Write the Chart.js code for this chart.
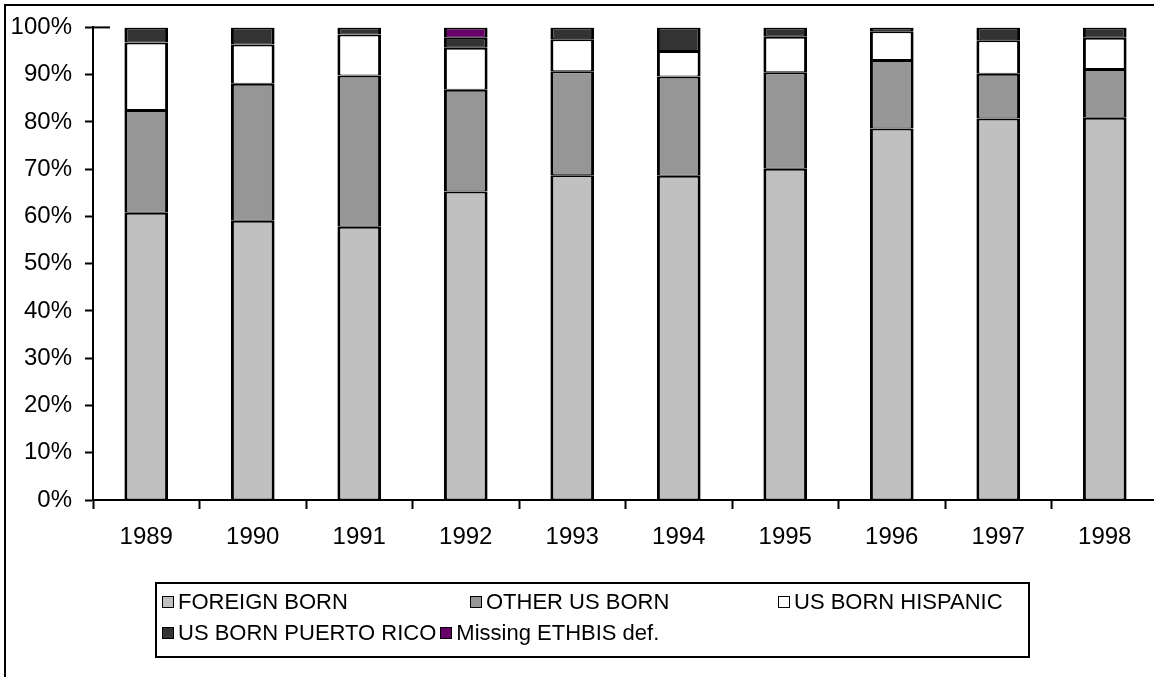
<!DOCTYPE html>
<html>
<head>
<meta charset="utf-8">
<script src="https://cdn.jsdelivr.net/npm/chart.js@4/dist/chart.umd.min.js"></script>
<style>
  html, body { margin: 0; padding: 0; background: #fff; overflow: hidden; width: 1154px; height: 677px; }
  #wrap { position: relative; width: 1154px; height: 677px; overflow: hidden; }
  #chart { position: absolute; left: 0; top: 0; }
  #legend {
    position: absolute; left: 155px; top: 582px; width: 875px; height: 76px;
    box-sizing: border-box; border: 2px solid #000; background: #fff;
    font-family: "Liberation Sans", Arial, sans-serif; font-size: 22px; line-height: 25px; color: #000;
  }
  .row { position: absolute; left: 5px; display: flex; align-items: center; white-space: nowrap; }
  .item { display: flex; align-items: center; }
  .row1 .item { width: 308px; }
  .row2 .item { margin-right: 4px; }
  .sw { width: 10px; height: 10px; border: 1.5px solid #000; margin-right: 4px; flex: none; }
</style>
</head>
<body>
<div id="wrap">
  <canvas id="chart" width="1170" height="677"></canvas>
  <div id="legend"></div>
</div>
<script>
const years = ["1989", "1990", "1991", "1992", "1993", "1994", "1995", "1996", "1997", "1998"];
const foreignBorn      = [60.8, 59.1, 57.8, 65.3, 68.7, 68.6, 70.1, 78.6, 80.7, 80.9];
const otherUsBorn      = [21.7, 29.0, 32.0, 21.5, 22.0, 21.0, 20.4, 14.5, 9.5, 10.3];
const usBornHispanic   = [14.3, 8.3, 8.7, 8.9, 6.8, 5.4, 7.5, 6.1, 7.1, 6.6];
const usBornPuertoRico = [3.2, 3.6, 1.5, 2.1, 2.5, 5.0, 2.0, 0.8, 2.7, 2.2];
const missingEthbis    = [0, 0, 0, 2.2, 0, 0, 0, 0, 0, 0];
const yTicks = [0, 10, 20, 30, 40, 50, 60, 70, 80, 90, 100];

const series = [
  { label: "FOREIGN BORN", data: foreignBorn, color: "#c0c0c0" },
  { label: "OTHER US BORN", data: otherUsBorn, color: "#969696" },
  { label: "US BORN HISPANIC", data: usBornHispanic, color: "#ffffff" },
  { label: "US BORN PUERTO RICO", data: usBornPuertoRico, color: "#333333" },
  { label: "Missing ETHBIS def.", data: missingEthbis, color: "#660066" },
];

Chart.defaults.font.family = '"Liberation Sans", Arial, sans-serif';
Chart.defaults.font.size = 24;
Chart.defaults.color = "#000";

// white page + outer frame (cropped on right/bottom) + short line at top of axis
const framePlugin = {
  id: "frame",
  beforeDraw(chart) {
    const ctx = chart.ctx;
    ctx.save();
    ctx.fillStyle = "#fff";
    ctx.fillRect(0, 0, chart.width, chart.height);
    ctx.strokeStyle = "#000";
    ctx.lineWidth = 2;
    ctx.strokeRect(5, 5, chart.width + 50, chart.height + 50);
    ctx.restore();
  },
  afterDraw(chart) {
    const ctx = chart.ctx;
    const y = chart.scales.y.getPixelForValue(100);
    ctx.save();
    ctx.strokeStyle = "#000";
    ctx.lineWidth = 2;
    ctx.beginPath();
    ctx.moveTo(chart.chartArea.left, y);
    ctx.lineTo(chart.chartArea.left + 17, y);
    ctx.stroke();
    ctx.restore();
  },
};

const ctx = document.getElementById("chart").getContext("2d");
new Chart(ctx, {
  type: "bar",
  data: {
    labels: years,
    datasets: series.map((s) => ({
      label: s.label,
      data: s.data,
      backgroundColor: s.color,
      borderColor: "#000",
      borderWidth: { top: 2, bottom: 1, left: 3, right: 3 },
      borderSkipped: false,
      inflateAmount: 0,
      barPercentage: 0.41,
      categoryPercentage: 1,
    })),
  },
  options: {
    responsive: false,
    animation: false,
    devicePixelRatio: 1,
    layout: { padding: { left: 0, top: 22, right: 12, bottom: 117 } },
    plugins: { legend: { display: false }, tooltip: { enabled: false } },
    scales: {
      x: {
        stacked: true,
        afterFit: (scale) => { scale.height = 60; },
        grid: { offset: true, drawOnChartArea: false, tickLength: 9, tickColor: "#000", tickWidth: 2 },
        border: { color: "#000", width: 2 },
        ticks: { padding: 14, maxRotation: 0 },
      },
      y: {
        stacked: true,
        min: 0,
        max: 100,
        afterFit: (scale) => { scale.width = 93; },
        afterBuildTicks: (scale) => { scale.ticks = yTicks.map((v) => ({ value: v })); },
        grid: { drawOnChartArea: false, tickLength: 8, tickColor: "#000", tickWidth: 2 },
        border: { color: "#000", width: 2 },
        ticks: { padding: 13, callback: (v) => v + "%" },
      },
    },
  },
  plugins: [framePlugin],
});

// legend: first row in fixed columns, second row flows
const legend = document.getElementById("legend");
const rows = [series.slice(0, 3), series.slice(3)];
rows.forEach((items, i) => {
  const row = document.createElement("div");
  row.className = "row row" + (i + 1);
  row.style.top = (i === 0 ? 5 : 36) + "px";
  items.forEach((s) => {
    const it = document.createElement("div");
    it.className = "item";
    const sw = document.createElement("span");
    sw.className = "sw";
    sw.style.background = s.color;
    const tx = document.createElement("span");
    tx.textContent = s.label;
    it.appendChild(sw);
    it.appendChild(tx);
    row.appendChild(it);
  });
  legend.appendChild(row);
});
</script>
</body>
</html>
